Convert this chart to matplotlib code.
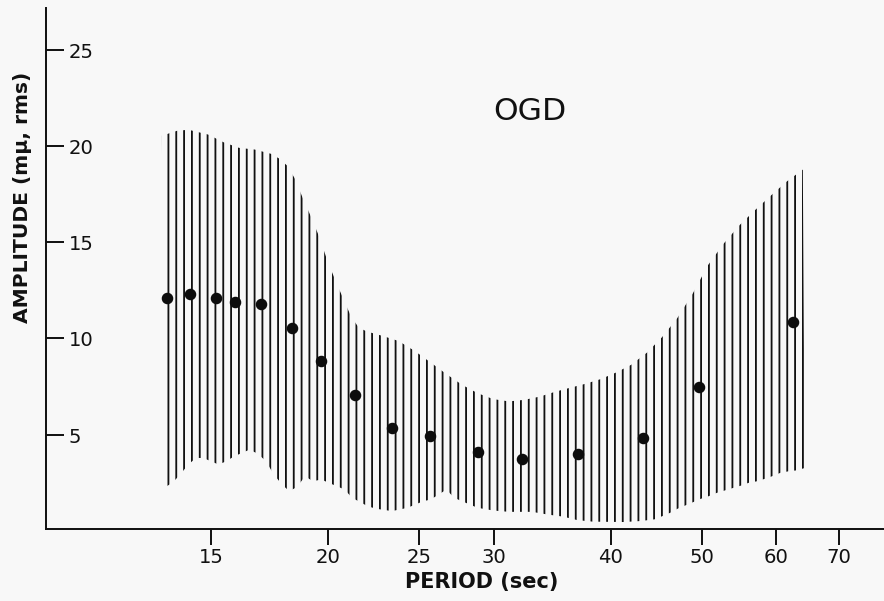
import matplotlib
matplotlib.use("Agg")
import matplotlib.pyplot as plt
from matplotlib.ticker import NullLocator, FixedLocator

# ---------------- data ----------------
obs_period = [13.47, 14.24, 15.19, 15.92, 16.96, 18.27, 19.65, 21.34, 23.40,
              25.69, 28.84, 32.19, 36.91, 43.34, 49.67, 62.50]
obs_amp = [12.13, 12.29, 12.13, 11.91, 11.79, 10.54, 8.85, 7.04, 5.35,
           4.95, 4.10, 3.76, 3.99, 4.83, 7.47, 10.87]

upper_period = [13.29, 13.80, 14.19, 14.89, 15.46, 16.06, 16.70, 17.37, 17.70,
                18.07, 18.41, 18.78, 19.17, 19.56, 19.94, 20.34, 20.75, 21.15,
                21.55, 21.99, 22.86, 23.76, 24.72, 25.71, 26.72, 27.77, 28.84,
                29.97, 31.15, 32.34, 33.61, 34.94, 36.28, 37.55, 39.03, 40.52,
                42.05, 43.70, 45.35, 47.08, 48.92, 50.78, 52.77, 54.84, 57.05,
                59.29, 61.68, 64.09]
upper_amp = [20.54, 20.80, 20.85, 20.60, 20.20, 19.91, 19.82, 19.60, 19.37,
             18.99, 18.33, 17.30, 16.31, 15.27, 14.07, 13.03, 12.05, 11.13,
             10.56, 10.36, 10.13, 9.87, 9.35, 8.75, 8.15, 7.59, 7.16,
             6.85, 6.73, 6.81, 6.98, 7.24, 7.45, 7.64, 7.89, 8.23,
             8.63, 9.26, 10.06, 11.05, 12.34, 13.81, 14.93, 15.88, 16.69,
             17.44, 18.18, 18.78]

lower_period = [13.36, 13.64, 13.90, 14.18, 14.45, 14.71, 14.99, 15.27, 15.57,
                15.87, 16.18, 16.47, 16.81, 17.16, 17.49, 17.85, 18.17, 18.51,
                18.89, 19.25, 19.65, 20.02, 20.42, 20.81, 21.20, 21.63, 22.03,
                22.49, 23.37, 23.82, 24.28, 24.76, 25.23, 25.71, 26.22, 26.72,
                27.23, 27.77, 28.30, 28.84, 29.97, 31.15, 32.98, 34.25, 35.60,
                36.85, 38.27, 41.26, 42.99, 44.53, 45.42, 46.28, 47.12, 48.02,
                48.94, 49.91, 50.85, 51.92, 52.99, 54.08, 55.12, 56.12, 57.29,
                58.33, 59.44, 60.67, 61.92, 63.21, 64.40]
lower_amp = [2.24, 2.50, 2.93, 3.45, 3.79, 3.79, 3.62, 3.45, 3.62,
             3.88, 4.05, 4.22, 4.02, 3.62, 2.93, 2.41, 2.06, 2.28,
             2.84, 2.58, 2.67, 2.50, 2.32, 2.15, 1.72, 1.49, 1.28,
             1.15, 1.03, 1.11, 1.20, 1.37, 1.54, 1.63, 1.89, 2.15,
             1.72, 1.54, 1.37, 1.20, 1.06, 0.99, 0.99, 0.85, 0.74,
             0.56, 0.48, 0.46, 0.51, 0.60, 0.77, 0.94, 1.15, 1.32,
             1.49, 1.67, 1.80, 1.98, 2.11, 2.24, 2.36, 2.50, 2.58,
             2.70, 2.84, 3.02, 3.10, 3.15, 3.27]

x_ticks = [15, 20, 25, 30, 40, 50, 60, 70]
x_ticklabels = ["15", "20", "25", "30", "40", "50", "60", "70"]
y_ticks = [5, 10, 15, 20, 25]
y_ticklabels = ["5", "10", "15", "20", "25"]

# ---------------- figure ----------------
DPI = 94.2
plt.rcParams["font.family"] = ["DejaVu Sans"]
plt.rcParams["hatch.linewidth"] = 1.4

W, H = 884, 601
fig = plt.figure(figsize=((W + 0.4) / DPI, (H + 0.4) / DPI), dpi=DPI,
                 facecolor="#f8f8f8")
ax = fig.add_axes([46 / W, 72 / H, (W - 46) / W, 521 / H])
ax.set_facecolor("none")

ax.set_xscale("log")
ax.set_xlim(10, 78.3)
ax.set_ylim(0.1, 27.2)

band_x = upper_period + lower_period[::-1]
band_y = upper_amp + lower_amp[::-1]
ax.fill(band_x, band_y, facecolor="none", edgecolor="#111111", linewidth=0,
        hatch="||", zorder=2)

ax.plot(obs_period, obs_amp, "o", color="#0d0d0d", markersize=7.8, zorder=3)

ax.text(32.8, 21.8, "OGD", ha="center", va="center", fontsize=24,
        color="#111111")

# spines
for s in ("top", "right"):
    ax.spines[s].set_visible(False)
for s in ("left", "bottom"):
    ax.spines[s].set_linewidth(1.5)
    ax.spines[s].set_color("#111111")

# x axis
ax.xaxis.set_major_locator(FixedLocator(x_ticks))
ax.xaxis.set_minor_locator(NullLocator())
ax.set_xticklabels(x_ticklabels)
ax.tick_params(axis="x", direction="out", length=12, width=1.5, pad=2,
               labelsize=15, colors="#111111")

# y axis: inward ticks, labels inside to the right
ax.yaxis.set_major_locator(FixedLocator(y_ticks))
ax.yaxis.set_minor_locator(NullLocator())
ax.set_yticklabels(y_ticklabels)
ax.tick_params(axis="y", direction="in", length=13.8, width=1.5, pad=-17.5,
               labelsize=15, colors="#111111")
for lbl in ax.get_yticklabels():
    lbl.set_horizontalalignment("left")

ax.set_xlabel("PERIOD (sec)", fontsize=16, fontweight="bold", color="#111111")
ax.xaxis.label.set_va("center")
ax.xaxis.set_label_coords((481 - 46) / 838, (529 - 582) / 521)

ax.set_ylabel("AMPLITUDE (mμ, rms)", fontsize=15.5, fontweight="bold",
              color="#111111")
ax.yaxis.label.set_va("center")
ax.yaxis.label.set_ha("center")
ax.yaxis.set_label_coords((22 - 46) / 838, (529 - 197) / 521)

fig.savefig("out.png", dpi=DPI, facecolor=fig.get_facecolor())
